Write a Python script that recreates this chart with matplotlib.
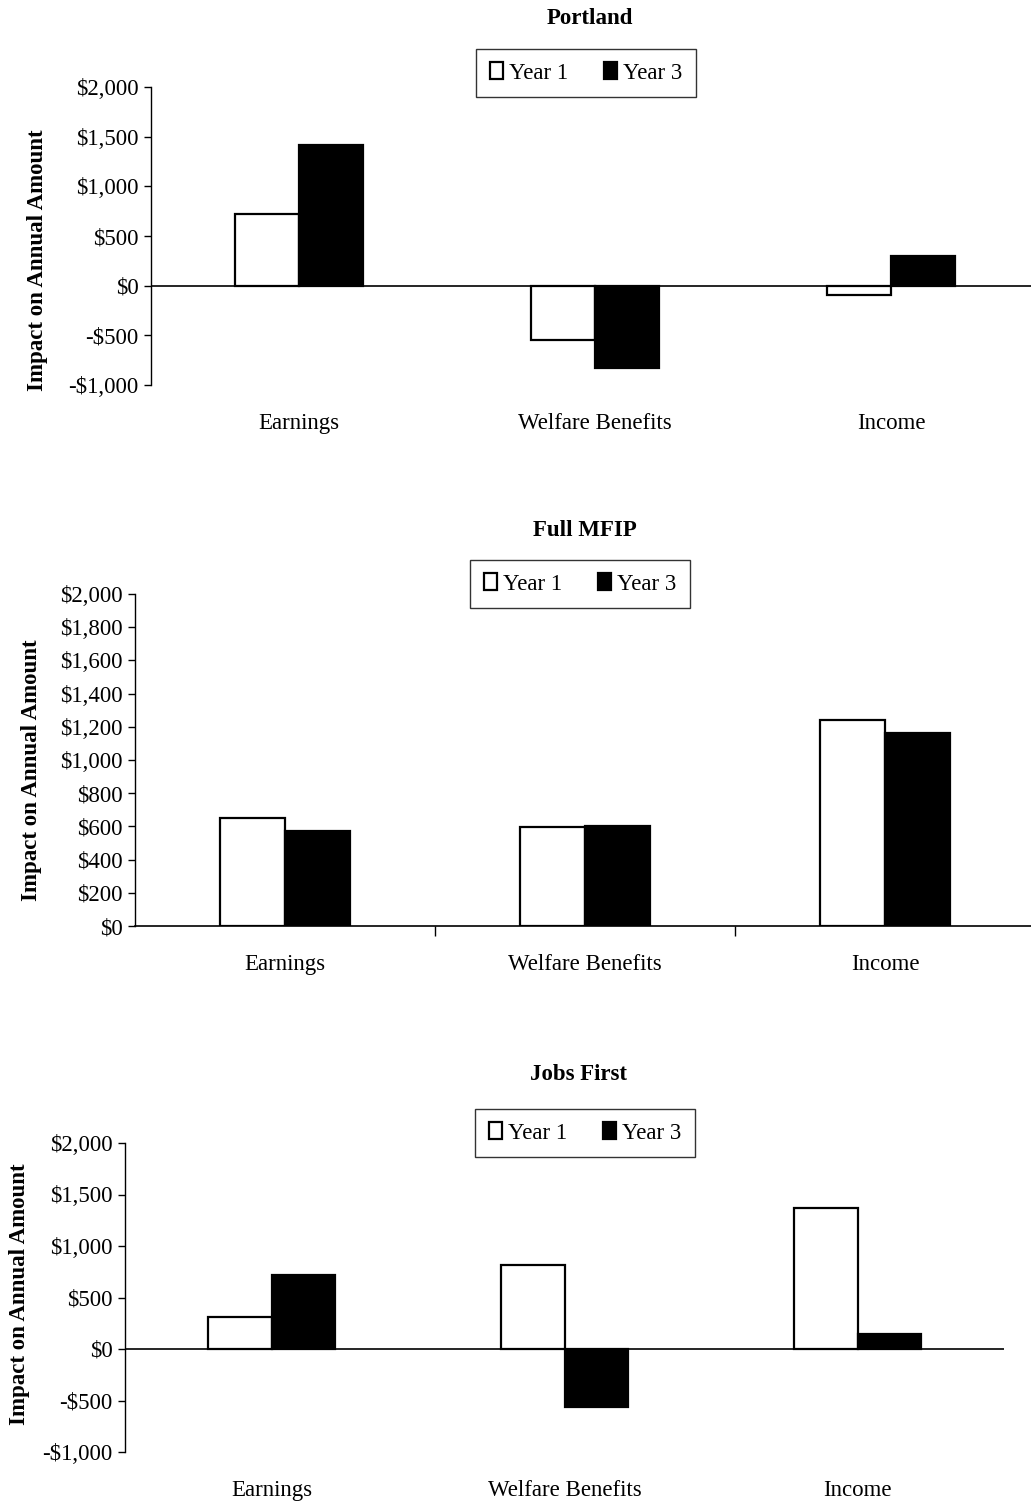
import numpy as np
import matplotlib
matplotlib.use('Agg')
import matplotlib.pyplot as plt
from matplotlib.patches import Patch
from matplotlib.ticker import FuncFormatter, FixedLocator

plt.rcParams['font.family'] = ['Liberation Serif', 'DejaVu Serif']

# data (annual impact, dollars)
categories = ['Earnings', 'Welfare Benefits', 'Income']
series_names = ['Year 1', 'Year 3']
portland_year1 = [720, -550, -90]
portland_year3 = [1420, -830, 300]
mfip_year1 = [650, 595, 1240]
mfip_year3 = [570, 600, 1160]
jobs_year1 = [310, 820, 1370]
jobs_year3 = [720, -560, 150]

panel_titles = ['Portland', 'Full MFIP', 'Jobs First']
panel_ticks = [[-1000, -500, 0, 500, 1000, 1500, 2000],
               list(range(0, 2001, 200)),
               [-1000, -500, 0, 500, 1000, 1500, 2000]]
panel_ylims = [(-1000, 2000), (0, 2000), (-1000, 2000)]

W, H = 1031, 1505
fig = plt.figure(figsize=(W / 100, H / 100), dpi=100)

# pixel layout: (left, right, top, bottom) of each plot area
boxes = [(151, 1039, 87, 385), (135, 1035, 594, 926), (125, 1004, 1143, 1452)]
title_xy = [(590, 18), (585, 530), (579, 1075)]
legend_xy = [(586, 73), (580, 584), (585, 1133)]
ylabel_xy = [(38, 260), (32, 770), (20, 1294)]

fs = 16.5
bar_w = 0.216
data = [(portland_year1, portland_year3), (mfip_year1, mfip_year3), (jobs_year1, jobs_year3)]


def dollars(v, pos):
    if v < 0:
        return '-${:,.0f}'.format(-v)
    return '${:,.0f}'.format(v)


for i in range(3):
    l, r, t, b = boxes[i]
    ax = fig.add_axes([l / W, 1 - b / H, (r - l) / W, (b - t) / H])
    x = np.arange(len(categories))
    y1, y3 = data[i]
    ax.bar(x - bar_w / 2, y1, bar_w, color='white', edgecolor='black', linewidth=1.6, label=series_names[0])
    ax.bar(x + bar_w / 2, y3, bar_w, color='black', edgecolor='black', linewidth=1.6, label=series_names[1])
    ax.set_xlim(-0.5, 2.5)
    ax.set_ylim(*panel_ylims[i])
    ax.yaxis.set_major_locator(FixedLocator(panel_ticks[i]))
    ax.yaxis.set_major_formatter(FuncFormatter(dollars))
    ax.tick_params(axis='y', direction='out', length=5, width=1, pad=4, labelsize=fs)
    for s in ['top', 'right']:
        ax.spines[s].set_visible(False)
    ax.spines['left'].set_linewidth(1)
    ax.set_xticks(x)
    ax.set_xticklabels(categories, fontsize=fs)
    if i == 1:
        ax.spines['bottom'].set_linewidth(1.2)
        ax.set_xticks([0.5, 1.5], minor=True)
        ax.tick_params(axis='x', which='major', length=0, pad=20)
        ax.tick_params(axis='x', which='minor', direction='out', length=7, width=1)
    else:
        ax.spines['bottom'].set_visible(False)
        ax.axhline(0, color='black', linewidth=1.2, zorder=0)
        ax.tick_params(axis='x', length=0, pad=20)

    handles = [Patch(facecolor='white', edgecolor='black', linewidth=1.6),
               Patch(facecolor='black', edgecolor='black', linewidth=1.6)]
    lx, ly = legend_xy[i]
    leg = ax.legend(handles, series_names, loc='center', ncol=2,
                    bbox_to_anchor=(lx / W, 1 - ly / H), bbox_transform=fig.transFigure,
                    fontsize=fs, frameon=True, fancybox=False, edgecolor='black',
                    handlelength=0.6, handleheight=0.7, handletextpad=0.25,
                    columnspacing=1.55, borderpad=0.6)
    leg.get_frame().set_linewidth(1)

    tx, ty = title_xy[i]
    fig.text(tx / W, 1 - ty / H, panel_titles[i], ha='center', va='center',
             fontsize=fs, fontweight='bold')
    yx, yy = ylabel_xy[i]
    fig.text(yx / W, 1 - yy / H, 'Impact on Annual Amount', rotation=90,
             ha='center', va='center', fontsize=fs, fontweight='bold')

fig.savefig('out.png', dpi=100)
